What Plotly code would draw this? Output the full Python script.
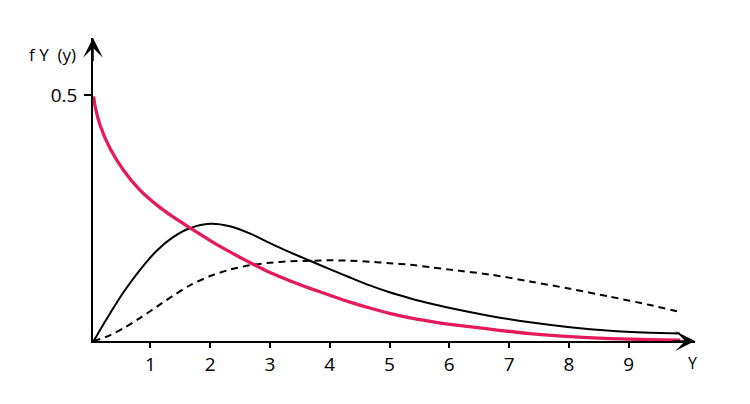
import plotly.graph_objects as go

# Sample positions along the horizontal axis (variable Y)
y_vals = [0.05, 0.08, 0.16, 0.33, 0.55, 0.83, 1.11, 1.38, 1.66, 2.0, 2.33, 2.67, 3.0, 3.34,
          3.67, 4.0, 4.34, 4.67, 5.0, 5.34, 5.68, 6.01, 6.68, 7.35, 8.02, 8.69, 9.36, 9.86]

# Density curves
red_curve = [0.497, 0.474, 0.438, 0.390, 0.347, 0.306, 0.276, 0.252, 0.230, 0.204, 0.181, 0.159, 0.139, 0.122,
             0.107, 0.093, 0.079, 0.067, 0.056, 0.047, 0.040, 0.034, 0.024, 0.015, 0.009, 0.005, 0.0025, 0.0015]
solid_curve = [0.0, 0.006, 0.023, 0.057, 0.099, 0.145, 0.184, 0.211, 0.229, 0.238, 0.233, 0.218, 0.199, 0.180,
               0.163, 0.146, 0.129, 0.113, 0.099, 0.087, 0.076, 0.067, 0.051, 0.038, 0.028, 0.021, 0.017, 0.015]
dashed_curve = [0.0, 0.001, 0.004, 0.012, 0.026, 0.047, 0.070, 0.092, 0.113, 0.132, 0.145, 0.154, 0.159, 0.162,
                0.163, 0.164, 0.163, 0.161, 0.158, 0.155, 0.150, 0.145, 0.135, 0.121, 0.106, 0.090, 0.073, 0.059]

x_ticks = [1, 2, 3, 4, 5, 6, 7, 8, 9]
y_ticks = [0.5]
y_tick_labels = ["0.5"]

X_MIN, X_MAX = 0.04, 10.11
Y_MIN, Y_MAX = 0.0, 0.6156

fig = go.Figure()
fig.add_trace(go.Scatter(x=y_vals, y=dashed_curve, mode="lines",
                         line=dict(color="black", width=2, dash="7px,5px", shape="spline", smoothing=0.8),
                         showlegend=False, hoverinfo="skip"))
fig.add_trace(go.Scatter(x=y_vals, y=solid_curve, mode="lines",
                         line=dict(color="black", width=2, shape="spline", smoothing=0.8),
                         showlegend=False, hoverinfo="skip"))
fig.add_trace(go.Scatter(x=y_vals, y=red_curve, mode="lines",
                         line=dict(color="#E6195A", width=3.3, shape="spline", smoothing=0.8),
                         showlegend=False, hoverinfo="skip"))

font = "Open Sans, DejaVu Sans, sans-serif"

# The page body adds an 8px offset, so the margins compensate for it
fig.update_layout(
    width=750, height=404,
    margin=dict(l=85, r=63, t=30, b=70.5),
    paper_bgcolor="white", plot_bgcolor="white",
    font=dict(family=font, size=19, color="black"),
    xaxis=dict(range=[X_MIN, X_MAX], showgrid=False, zeroline=False,
               showline=True, linecolor="black", linewidth=1.5,
               tickmode="array", tickvals=x_ticks, ticktext=[str(v) for v in x_ticks],
               ticks="outside", ticklen=5, tickwidth=1.5, tickcolor="black",
               tickfont=dict(family=font, size=19, color="black")),
    yaxis=dict(range=[Y_MIN, Y_MAX], showgrid=False, zeroline=False,
               showline=True, linecolor="black", linewidth=1.5,
               tickmode="array", tickvals=y_ticks, ticktext=y_tick_labels,
               ticks="outside", ticklen=7, tickwidth=1.5, tickcolor="black",
               ticklabelstandoff=3,
               tickfont=dict(family=font, size=19, color="black")),
)

# Axis arrowheads
fig.add_annotation(x=X_MAX, y=0, ax=X_MAX - 0.4, ay=0, xref="x", yref="y", axref="x", ayref="y",
                   showarrow=True, arrowhead=3, arrowsize=2.2, arrowwidth=1.5, arrowcolor="black",
                   text="", standoff=0)
fig.add_annotation(x=X_MIN, y=Y_MAX, ax=X_MIN, ay=Y_MAX - 0.05, xref="x", yref="y", axref="x", ayref="y",
                   showarrow=True, arrowhead=3, arrowsize=2.2, arrowwidth=1.5, arrowcolor="black",
                   text="", standoff=0)

# Axis titles
fig.add_annotation(xref="paper", yref="paper", x=-0.025, y=0.944, xanchor="right", yanchor="middle",
                   text="f&nbsp;Y&nbsp;&nbsp;(y)", showarrow=False,
                   font=dict(family=font, size=17, color="black"))
fig.add_annotation(xref="x", yref="y", x=X_MAX - 0.05, y=0, xanchor="center", yanchor="top",
                   text="Y", showarrow=False, yshift=-9,
                   font=dict(family=font, size=16, color="black"))

fig.write_html("out.html")
